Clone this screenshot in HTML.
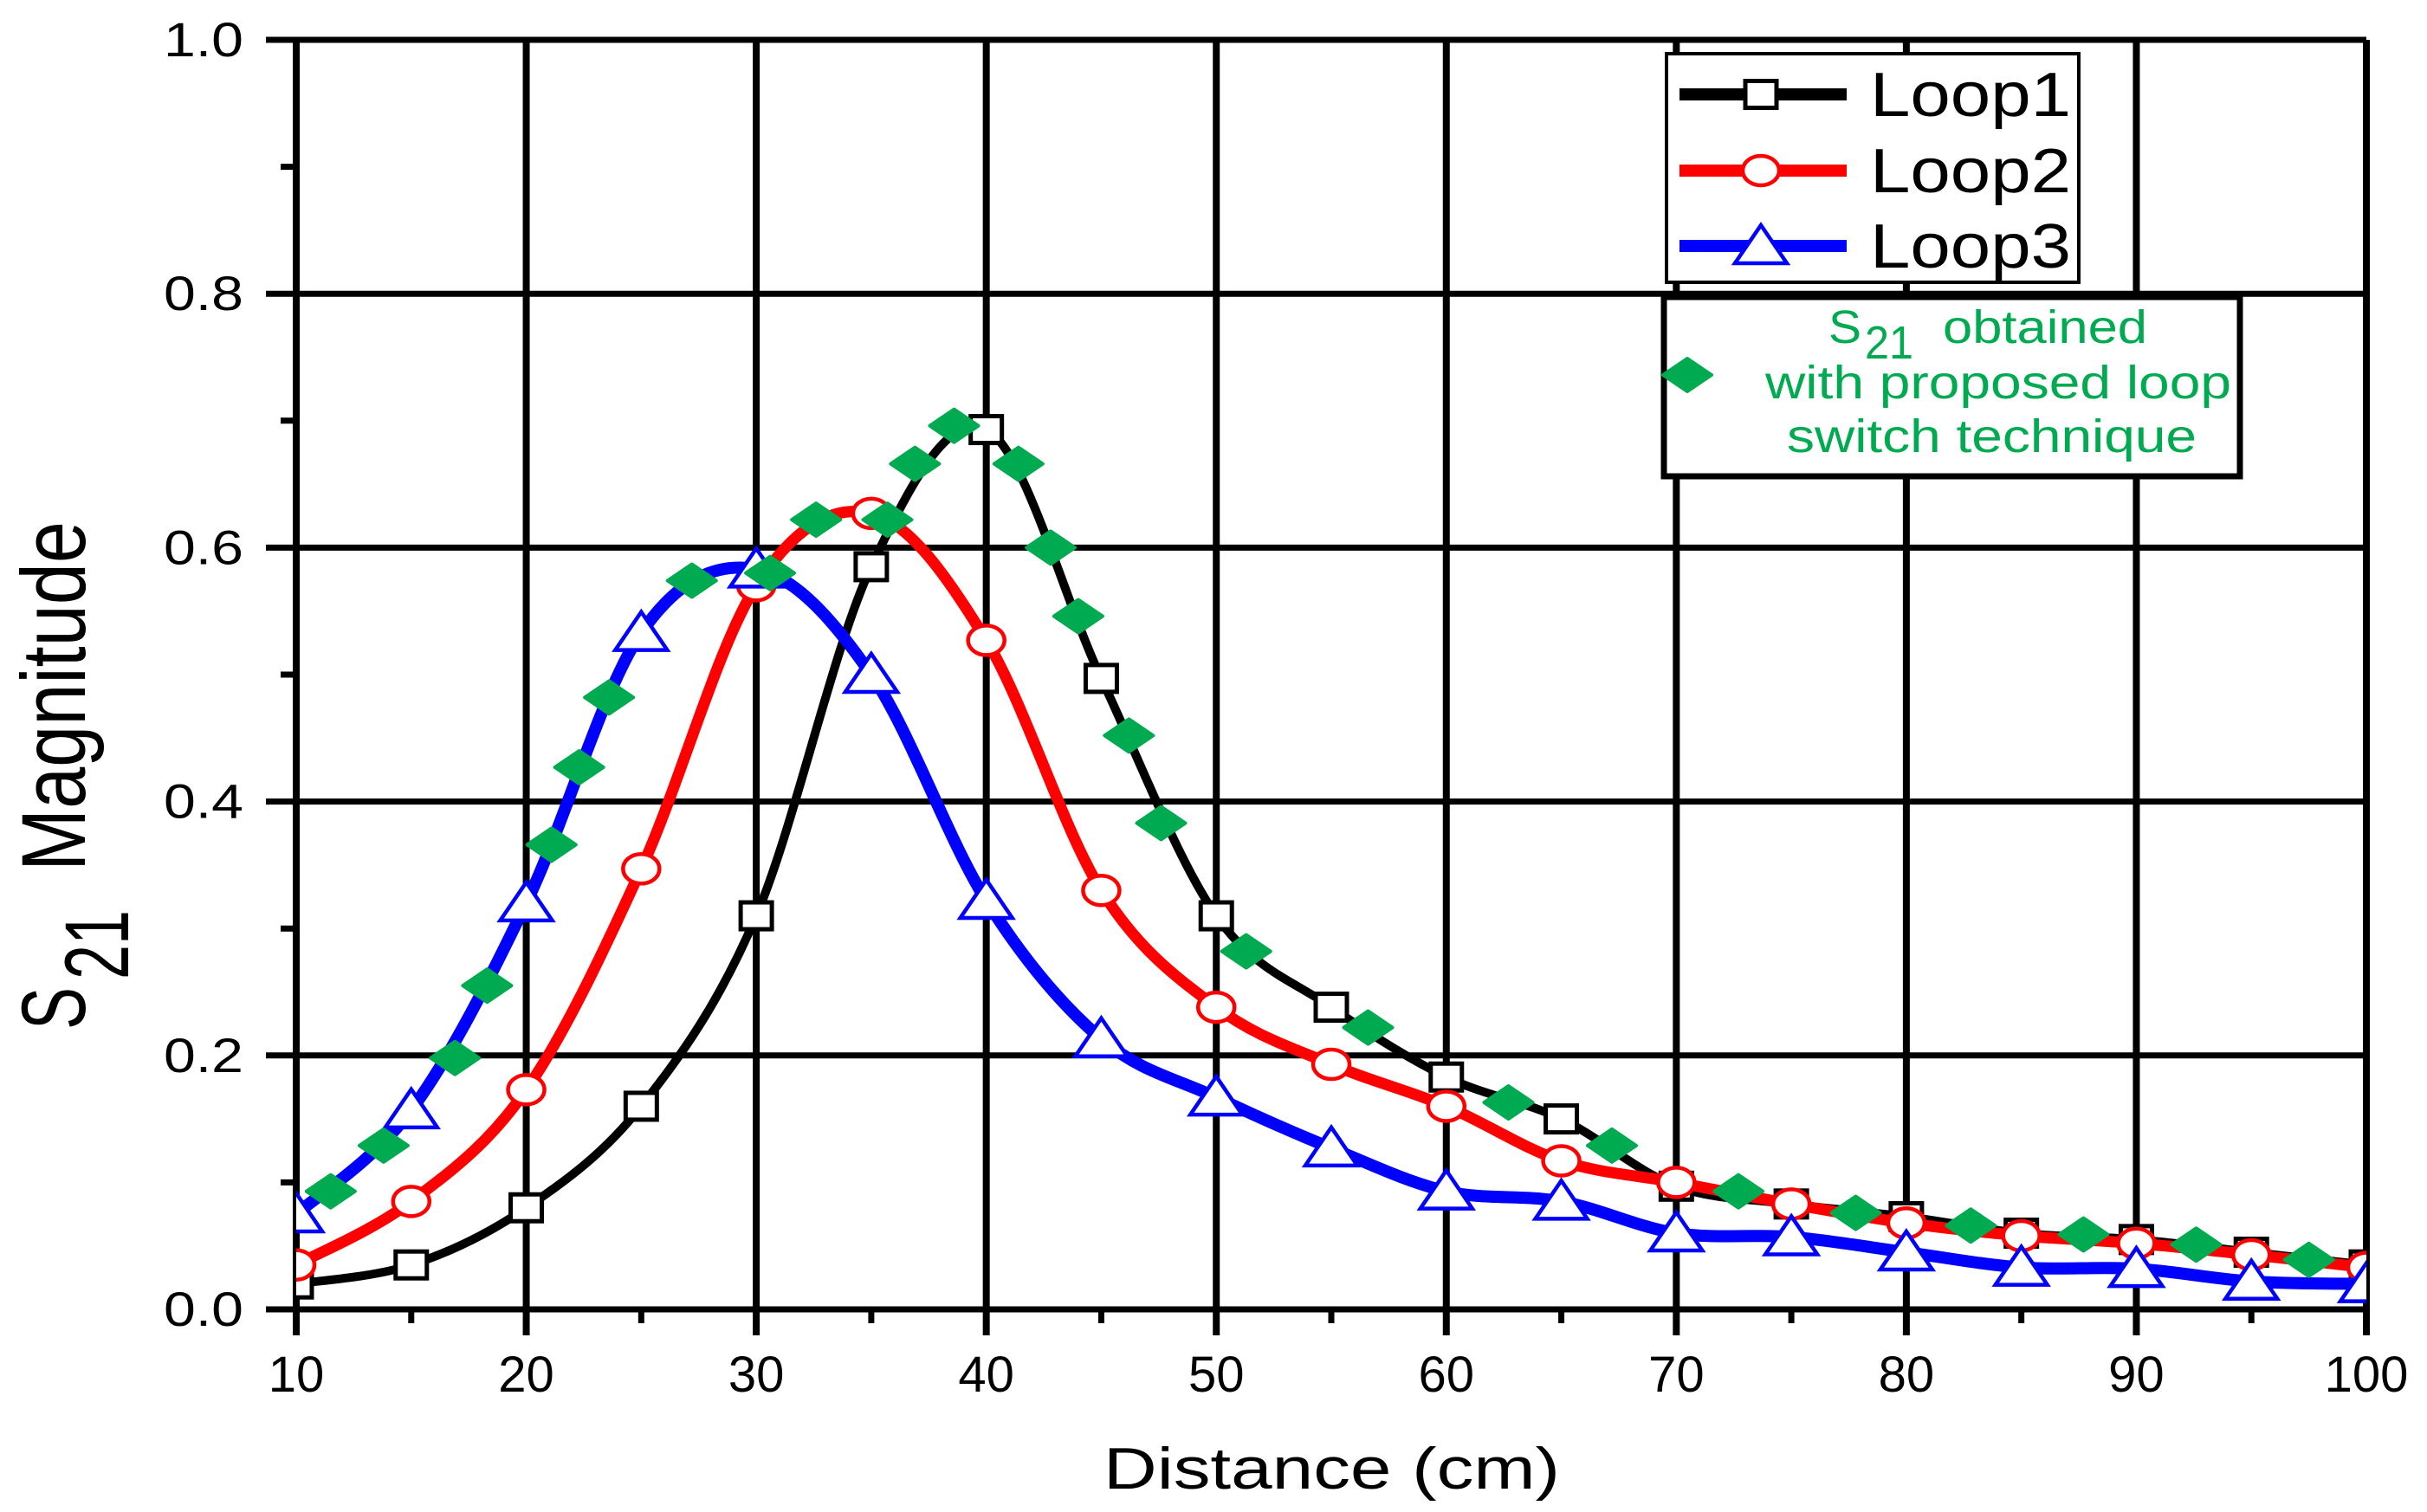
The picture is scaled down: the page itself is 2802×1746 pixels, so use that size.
<!DOCTYPE html>
<html><head><meta charset="utf-8"><style>
html,body{margin:0;padding:0;background:#fff;}
svg{display:block;font-family:"Liberation Sans",Arial,sans-serif;}
</style></head><body>
<svg id="chart" width="2802" height="1746" viewBox="0 0 2802 1746" xmlns="http://www.w3.org/2000/svg">
<g id="grid"></g>
<g id="ticks"></g>
<g id="series"></g>
<text x="1274" y="1719" font-size="68" textLength="527" lengthAdjust="spacingAndGlyphs">Distance (cm)</text>
<g transform="translate(98,1189) rotate(-90)">
<text x="0" y="0" font-size="105" textLength="49" lengthAdjust="spacingAndGlyphs">S</text>
<text x="58" y="50" font-size="105" textLength="80" lengthAdjust="spacingAndGlyphs">21</text>
<text x="183" y="0" font-size="105" textLength="404" lengthAdjust="spacingAndGlyphs">Magnitude</text>
</g>
<g id="legend">
<rect x="1924" y="62" width="476" height="264" fill="#fff" stroke="#000" stroke-width="4"/>
<rect x="1921" y="343" width="665" height="207" fill="#fff" stroke="#000" stroke-width="7"/>
</g>
</svg>
<script>
const xs = [10,15,20,25,30,35,40,45,50,55,60,65,70,75,80,85,90,95,100];
const loop1 = [0.02,0.035,0.08,0.16,0.31,0.585,0.693,0.497,0.31,0.238,0.183,0.15,0.097,0.083,0.073,0.06,0.055,0.045,0.035];
const loop2 = [0.035,0.085,0.173,0.347,0.57,0.627,0.527,0.33,0.238,0.193,0.16,0.117,0.1,0.083,0.068,0.058,0.052,0.043,0.033];
const loop3 = [0.075,0.157,0.32,0.533,0.583,0.5,0.322,0.213,0.167,0.127,0.093,0.085,0.06,0.057,0.045,0.033,0.032,0.022,0.02];
const switchX = [11.5,13.8,16.9,18.3,21.1,22.3,23.6,27.2,30.6,32.6,35.7,36.9,38.6,41.4,42.8,44.0,46.2,47.6,51.3,56.6,62.7,67.2,72.7,77.8,82.8,87.7,92.6,97.5];
const switchY = [0.093,0.129,0.198,0.255,0.366,0.427,0.482,0.574,0.58,0.622,0.622,0.666,0.696,0.666,0.60,0.546,0.452,0.383,0.282,0.222,0.163,0.129,0.093,0.076,0.066,0.059,0.051,0.039];
const xTicks = [10,20,30,40,50,60,70,80,90,100];
const yTicks = [0,0.2,0.4,0.6,0.8,1.0];
const yTickLabels = ["0.0","0.2","0.4","0.6","0.8","1.0"];

const NS="http://www.w3.org/2000/svg";
const X0=342,X1=2732,Y0=1512,Y1=46;
function sx(v){return X0+(v-10)/90*(X1-X0);}
function sy(v){return Y0-v*(Y0-Y1);}
function mk(tag,attrs,parent){const e=document.createElementNS(NS,tag);for(const k in attrs)e.setAttribute(k,attrs[k]);parent.appendChild(e);return e;}

const grid=document.getElementById('grid'),ticks=document.getElementById('ticks'),series=document.getElementById('series');
xTicks.forEach(v=>{
  const l=mk('line',{x1:sx(v),x2:sx(v),y1:Y1,y2:Y0+30,stroke:'#000','stroke-width':8},grid);
  
  
  const t=mk('text',{x:sx(v),y:1607,'font-size':58,'text-anchor':'middle'},ticks);
  
  
  t.textContent=v;
  if(v<100){
    const m=mk('line',{x1:sx(v+5),x2:sx(v+5),y1:Y0,y2:Y0+16,stroke:'#000','stroke-width':7},ticks);
    
    
  }
});
yTicks.forEach((v,i)=>{
  const l=mk('line',{x1:X0-35,x2:X1,y1:sy(v),y2:sy(v),stroke:'#000','stroke-width':7},grid);
  
  
  const t=mk('text',{x:281,y:sy(v)+19,'font-size':56,'text-anchor':'end',textLength:92,lengthAdjust:'spacingAndGlyphs'},ticks);
  
  
  t.textContent=yTickLabels[i];
  if(v<1){
    const m=mk('line',{x1:X0-18,x2:X0,y1:sy(v+0.1),y2:sy(v+0.1),stroke:'#000','stroke-width':7},ticks);
    
    
  }
});

function smooth(px,py){
  let d='M'+px[0]+','+py[0];
  for(let i=0;i<px.length-1;i++){
    const p0x=px[Math.max(i-1,0)],p0y=py[Math.max(i-1,0)];
    const p3x=px[Math.min(i+2,px.length-1)],p3y=py[Math.min(i+2,px.length-1)];
    const c1x=px[i]+(px[i+1]-p0x)/6,c1y=py[i]+(py[i+1]-p0y)/6;
    const c2x=px[i+1]-(p3x-px[i])/6,c2y=py[i+1]-(p3y-py[i])/6;
    d+=' C'+c1x+','+c1y+' '+c2x+','+c2y+' '+px[i+1]+','+py[i+1];
  }
  return d;
}
const clip=mk('clipPath',{id:'plotclip'},mk('defs',{},document.getElementById('chart')));
mk('rect',{x:X0,y:Y1-40,width:X1-X0,height:Y0-Y1+40},clip);

function square(cx,cy,g){return mk('rect',{x:cx-18,y:cy-15.5,width:36,height:31,fill:'#fff',stroke:'#000','stroke-width':5},g);}
function circle(cx,cy,g){return mk('ellipse',{cx:cx,cy:cy,rx:21,ry:17,fill:'#fff',stroke:'#f00','stroke-width':4.5},g);}
function tri(cx,cy,g){return mk('polygon',{points:(cx)+','+(cy-24)+' '+(cx+30)+','+(cy+20)+' '+(cx-30)+','+(cy+20),fill:'#fff',stroke:'#00f','stroke-width':4.5,'stroke-linejoin':'miter'},g);}
function diamond(cx,cy,g){return mk('polygon',{points:(cx)+','+(cy-19)+' '+(cx+28)+','+cy+' '+(cx)+','+(cy+19)+' '+(cx-28)+','+cy,fill:'#00AA50',stroke:'#00AA50','stroke-width':4,'stroke-linejoin':'round'},g);}

const defs=[
  {name:'loop1',vals:loop1,color:'#000',w:10,marker:square},
  {name:'loop2',vals:loop2,color:'#f00',w:13,marker:circle},
  {name:'loop3',vals:loop3,color:'#00f',w:14,marker:tri}
];
const gs=[];
defs.forEach(s=>{
  const g=mk('g',{'clip-path':'url(#plotclip)'},series);
  
  
  const p=mk('path',{d:smooth(xs.map(sx),s.vals.map(sy)),fill:'none',stroke:s.color,'stroke-width':s.w},g);
  
  
  gs.push(g);
});
defs.forEach((s,i)=>{
  xs.forEach((x,j)=>{
    const m=s.marker(sx(x),sy(s.vals[j]),gs[i]);
    
    
  });
});
const gd=mk('g',{'clip-path':'url(#plotclip)'},series);


switchX.forEach((x,j)=>{
  const m=diamond(sx(x),sy(switchY[j]),gd);
  
  
});

const lg=document.getElementById('legend');
const ly=[109,197,284],names=['Loop1','Loop2','Loop3'];
defs.forEach((s,i)=>{
  const l=mk('line',{x1:1939,x2:2132,y1:ly[i],y2:ly[i],stroke:s.color,'stroke-width':14},lg);
  
  
  const m=s.marker(2033,ly[i],lg);
  
  
  const t=mk('text',{x:2159,y:ly[i]+25,'font-size':72,textLength:232,lengthAdjust:'spacingAndGlyphs'},lg);
  
  
  t.textContent=names[i];
});
const dm=diamond(1948,433,lg);


const gt=[["S",2111,396,38,54],["21",2153,414,56,54],["obtained",2243,396,236,54],["with proposed loop",2038,460,538,54],["switch technique",2063,522,473,54]];
gt.forEach(a=>{
  const t=mk('text',{x:a[1],y:a[2],'font-size':a[4],fill:'#00AA50',textLength:a[3],lengthAdjust:'spacingAndGlyphs'},lg);
  
  
  t.textContent=a[0];
});
</script>
</body></html>
